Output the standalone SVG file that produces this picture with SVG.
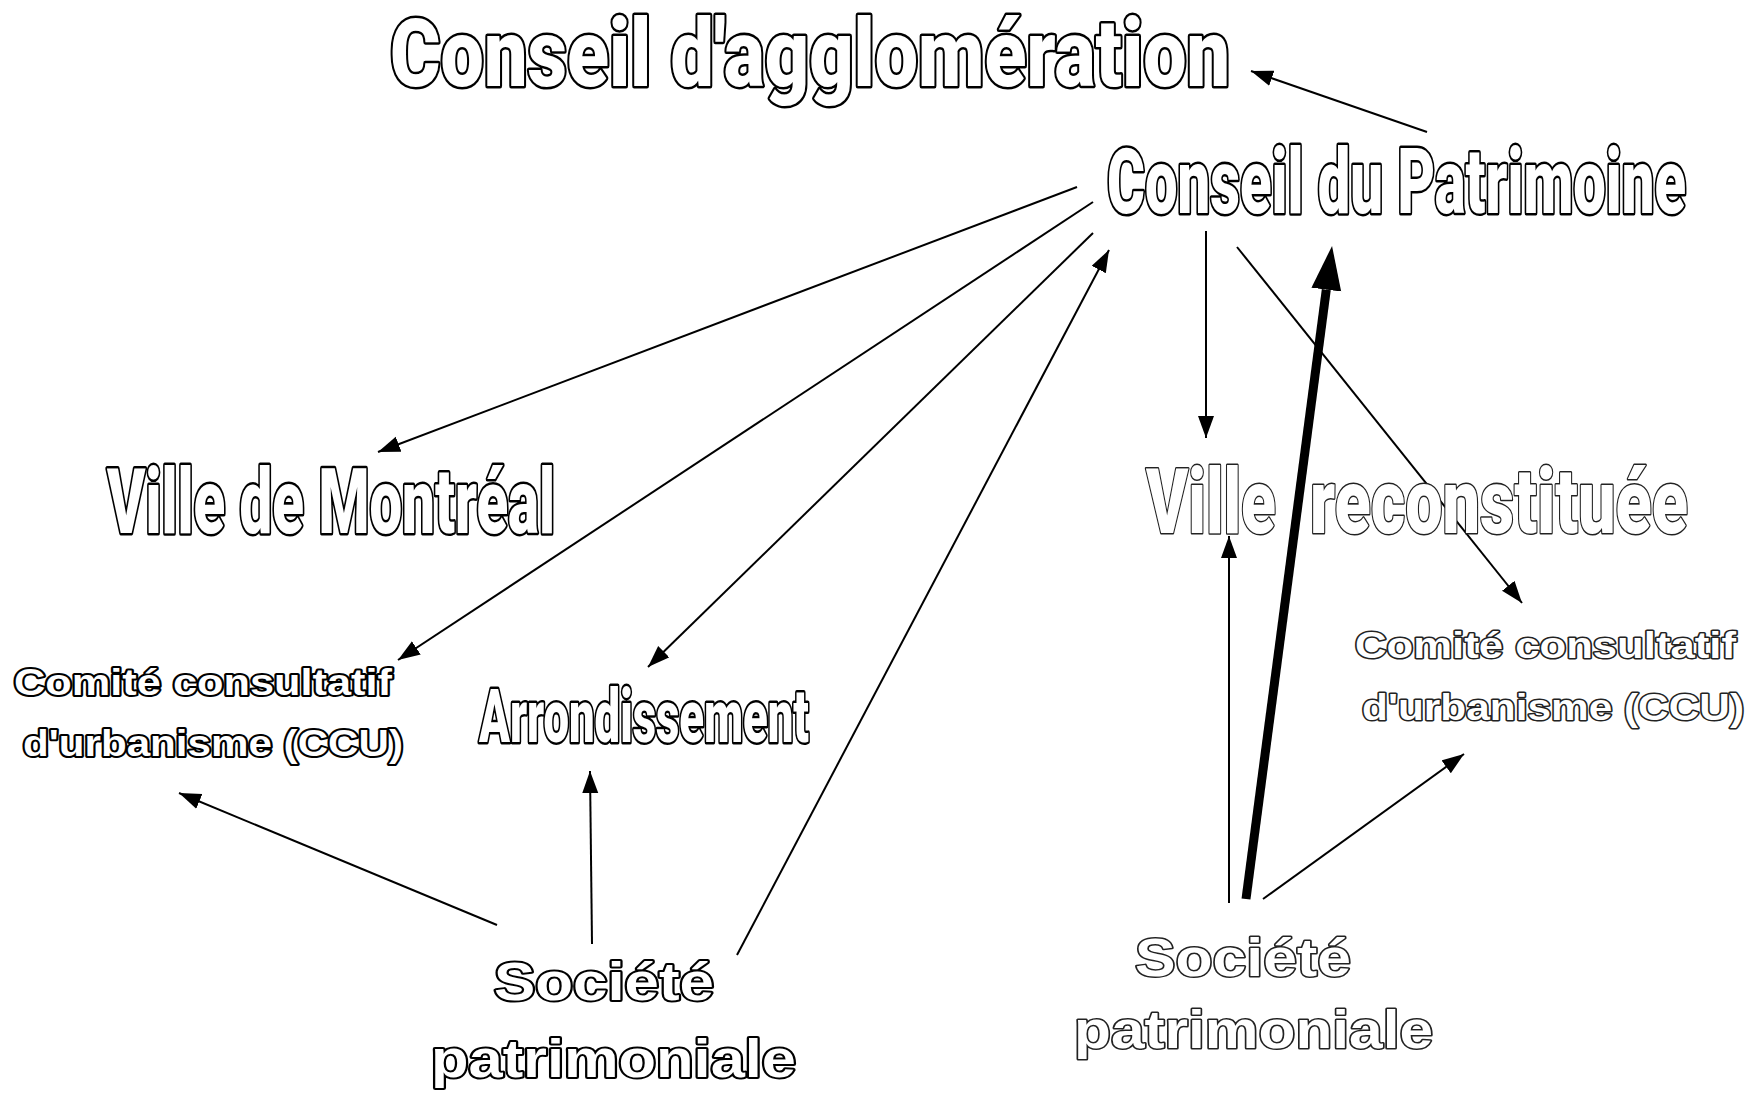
<svg xmlns="http://www.w3.org/2000/svg" width="1752" height="1098" viewBox="0 0 1752 1098">
<style>
.t{font-family:Roboto,"Liberation Sans",Arial,sans-serif;font-weight:900;fill:#fff;stroke:#000;stroke-width:5;stroke-linejoin:round;paint-order:stroke}
.w{font-family:"Liberation Sans",Arial,sans-serif;font-weight:bold;fill:#fff;stroke:#000;stroke-width:4;stroke-linejoin:round;paint-order:stroke}
.l{stroke:#222;stroke-width:3}
.c{stroke:#000;stroke-width:2;fill:none}
.k{stroke:#000;stroke-width:9;fill:none}
</style>
<defs>
<marker id="a" markerUnits="userSpaceOnUse" markerWidth="24" markerHeight="18" refX="22" refY="8" orient="auto"><path d="M0,0 L22,8 L0,16 z" fill="#000"/></marker>
<marker id="b" markerUnits="userSpaceOnUse" markerWidth="46" markerHeight="34" refX="0" refY="15" orient="auto"><path d="M0,0 L44,15 L0,30 z" fill="#000"/></marker>
</defs>
<rect width="1752" height="1098" fill="#fff"/>
<g id="connectors">
<line class="c" x1="1427" y1="132" x2="1251" y2="71" marker-end="url(#a)"/>
<line class="c" x1="1077" y1="187" x2="378" y2="452" marker-end="url(#a)"/>
<line class="c" x1="1093" y1="202" x2="398" y2="660" marker-end="url(#a)"/>
<line class="c" x1="1093" y1="233" x2="648" y2="667" marker-end="url(#a)"/>
<line class="c" x1="737" y1="955" x2="1109" y2="250" marker-end="url(#a)"/>
<line class="c" x1="592" y1="944" x2="590" y2="771" marker-end="url(#a)"/>
<line class="c" x1="497" y1="925" x2="179" y2="793" marker-end="url(#a)"/>
<line class="c" x1="1206" y1="231" x2="1206" y2="438" marker-end="url(#a)"/>
<line class="c" x1="1237" y1="247" x2="1522" y2="603" marker-end="url(#a)"/>
<line class="c" x1="1229" y1="903" x2="1229" y2="536" marker-end="url(#a)"/>
<line class="c" x1="1263" y1="899" x2="1464" y2="754" marker-end="url(#a)"/>
<line class="k" x1="1246" y1="899" x2="1326.3" y2="289.6" marker-end="url(#b)"/>
</g>
<g id="conseil-agglomeration" transform="scale(0.6,1)"><text class="t" x="650" y="86" font-size="94" textLength="1400" lengthAdjust="spacingAndGlyphs">Conseil d'agglomération</text></g>
<g id="conseil-patrimoine" transform="scale(0.6,1)"><text class="t" x="1845" y="213" font-size="91" textLength="965" lengthAdjust="spacingAndGlyphs">Conseil du Patrimoine</text></g>
<g id="ville-montreal" transform="scale(0.6,1)"><text class="t" x="178.3" y="533" font-size="91" textLength="746.7" lengthAdjust="spacingAndGlyphs">Ville de Montréal</text></g>
<g id="ville-reconstituee" transform="scale(0.6,1)"><text class="t l" y="533" font-size="91"><tspan x="1910" textLength="216.7" lengthAdjust="spacingAndGlyphs">Ville</tspan><tspan x="2183.3" textLength="630" lengthAdjust="spacingAndGlyphs">reconstituée</tspan></text></g>
<g id="ccu-gauche"><text class="w" font-size="37"><tspan x="14" y="695" textLength="378" lengthAdjust="spacingAndGlyphs">Comité consultatif</tspan><tspan x="23" y="756" textLength="380" lengthAdjust="spacingAndGlyphs">d'urbanisme (CCU)</tspan></text></g>
<g id="arrondissement" transform="scale(0.6,1)"><text class="t" x="798.3" y="742" font-size="75" textLength="550" lengthAdjust="spacingAndGlyphs">Arrondissement</text></g>
<g id="societe-gauche"><text class="w" font-size="53"><tspan x="494" y="1000" textLength="220" lengthAdjust="spacingAndGlyphs">Société</tspan><tspan x="431" y="1077" textLength="365" lengthAdjust="spacingAndGlyphs">patrimoniale</tspan></text></g>
<g id="ccu-droite"><text class="w l" font-size="37"><tspan x="1355" y="658" textLength="381" lengthAdjust="spacingAndGlyphs">Comité consultatif</tspan><tspan x="1362" y="720" textLength="382" lengthAdjust="spacingAndGlyphs">d'urbanisme (CCU)</tspan></text></g>
<g id="societe-droite"><text class="w l" font-size="53"><tspan x="1135" y="976" textLength="216" lengthAdjust="spacingAndGlyphs">Société</tspan><tspan x="1074" y="1048" textLength="359" lengthAdjust="spacingAndGlyphs">patrimoniale</tspan></text></g>
</svg>
